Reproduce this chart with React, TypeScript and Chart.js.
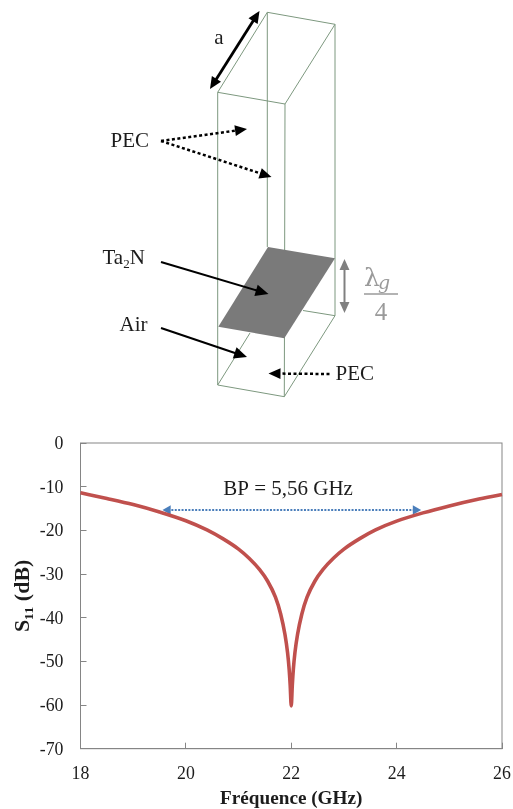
import React, { useEffect, useRef } from "react";
import { Chart, registerables } from "chart.js";

Chart.register(...registerables);

const frequencies = [18, 18.5, 19, 19.5, 20, 20.4, 20.7, 21, 21.2, 21.4, 21.55, 21.7, 21.8, 21.88, 21.93, 21.96, 21.98, 22, 22.02, 22.04, 22.07, 22.12, 22.2, 22.3, 22.45, 22.6, 22.8, 23, 23.3, 23.6, 24, 24.5, 25, 25.5, 26];
const s11Values = [-11.4, -12.7, -14.1, -15.8, -17.8, -19.9, -21.9, -24.3, -26.4, -29, -31.6, -35.3, -39.2, -43.8, -48, -51.8, -55.5, -60.2, -55.5, -51.8, -48, -43.8, -39.2, -35.3, -31.6, -29, -26.4, -24.3, -21.9, -19.9, -17.9, -16, -14.4, -13, -11.8];
const bandwidthX = [19.66, 24.36];
const bandwidthY = [-15.35, -15.35];
const bandwidthLabel = "BP = 5,56 GHz";
const labelPosition = { x: 21.94, y: -10.6 };
const xTicks = [18, 20, 22, 24, 26];
const yTicks = [0, -10, -20, -30, -40, -50, -60, -70];

const SERIF = '"Liberation Serif", serif';
const INK = "#1c1c1c";
const AXIS = "#858585";

const framePlugin = {
  id: "frame",
  beforeDatasetsDraw(chart: any) {
    const { ctx, chartArea: a } = chart;
    ctx.save();
    ctx.strokeStyle = AXIS;
    ctx.lineWidth = 1;
    ctx.strokeRect(a.left, a.top, a.right - a.left, a.bottom - a.top);
    ctx.restore();
  },
  afterDatasetsDraw(chart: any) {
    const { ctx, scales } = chart;
    ctx.save();
    ctx.fillStyle = INK;
    ctx.font = `21px ${SERIF}`;
    ctx.textAlign = "center";
    ctx.textBaseline = "middle";
    ctx.fillText(bandwidthLabel, scales.x.getPixelForValue(labelPosition.x), scales.y.getPixelForValue(labelPosition.y));
    ctx.restore();
  },
};

type ArrowProps = { x1: number; y1: number; x2: number; y2: number; color?: string; width?: number; dash?: string; head?: number; both?: boolean };

function Head({ x, y, ang, size, color }: { x: number; y: number; ang: number; size: number; color: string }) {
  const w = size * 0.45;
  const bx = x - Math.cos(ang) * size;
  const by = y - Math.sin(ang) * size;
  const px = -Math.sin(ang) * w;
  const py = Math.cos(ang) * w;
  return <polygon points={`${x},${y} ${bx + px},${by + py} ${bx - px},${by - py}`} fill={color} />;
}

function Arrow({ x1, y1, x2, y2, color = "#000", width = 2.1, dash, head = 13, both }: ArrowProps) {
  const ang = Math.atan2(y2 - y1, x2 - x1);
  const ex = x2 - Math.cos(ang) * head * 0.8;
  const ey = y2 - Math.sin(ang) * head * 0.8;
  const sx = both ? x1 + Math.cos(ang) * head * 0.8 : x1;
  const sy = both ? y1 + Math.sin(ang) * head * 0.8 : y1;
  return (
    <g>
      <line x1={sx} y1={sy} x2={ex} y2={ey} stroke={color} strokeWidth={width} strokeDasharray={dash} />
      <Head x={x2} y={y2} ang={ang} size={head} color={color} />
      {both && <Head x={x1} y={y1} ang={ang + Math.PI} size={head} color={color} />}
    </g>
  );
}

function Schematic() {
  const edge = { stroke: "#7d987f", strokeWidth: 1, fill: "none" };
  const txt = { fontFamily: SERIF, fontSize: 21, fill: INK };
  return (
    <svg width={513} height={410} style={{ position: "absolute", left: 0, top: 0 }}>
      <polygon points="267.3,12.3 335,24.3 285,104 217.7,92.3" {...edge} />
      <line x1={217.7} y1={92.3} x2={217.7} y2={385} {...edge} />
      <line x1={285} y1={104} x2={284.3} y2={396.7} {...edge} />
      <line x1={335} y1={24.3} x2={335} y2={315.7} {...edge} />
      <line x1={267.3} y1={12.3} x2={267.3} y2={247} {...edge} />
      <polyline points="217.7,385 284.3,396.7 335,315.7 303,310.5" {...edge} />
      <line x1={217.7} y1={385} x2={250} y2={333} {...edge} />
      <polygon points="268,247 335,258.3 284.3,338.3 218.3,326.7" fill="#7a7a7a" />

      <Arrow x1={210} y1={89} x2={259.5} y2={11} both width={2.8} head={12} />
      <text x={219} y={44} {...txt} textAnchor="middle">a</text>

      <text x={110.5} y={147} {...txt}>PEC</text>
      <Arrow x1={161} y1={141} x2={247} y2={129} dash="3 2.5" width={2.5} head={12} />
      <Arrow x1={161} y1={141} x2={271.5} y2={177} dash="3 2.5" width={2.5} head={12} />

      <text x={102.5} y={264} {...txt}>Ta<tspan fontSize={13} dy={4}>2</tspan><tspan dy={-4}>N</tspan></text>
      <Arrow x1={161} y1={262} x2={268.5} y2={294} />

      <text x={119.5} y={331} {...txt}>Air</text>
      <Arrow x1={161} y1={328} x2={247} y2={357} />

      <text x={335.5} y={380} {...txt}>PEC</text>
      <Arrow x1={329.5} y1={374} x2={268.5} y2={373.5} dash="3 2.5" width={2.5} head={12} />

      <Arrow x1={344.5} y1={259} x2={344.5} y2={313} both color="#808080" width={2} head={11} />
      <text x={364} y={286} fontFamily={'"DejaVu Serif", serif'} fontSize={25} fill="#9a9a9a">λ</text>
      <text x={378} y={289} fontFamily={'"DejaVu Serif", serif'} fontStyle="italic" fontSize={19} fill="#9a9a9a">g</text>
      <line x1={364} y1={294} x2={398} y2={294} stroke="#9a9a9a" strokeWidth={1.6} />
      <text x={381} y={320} fontFamily={SERIF} fontSize={25} fill="#9a9a9a" textAnchor="middle">4</text>
    </svg>
  );
}

export default function App() {
  const ref = useRef<HTMLCanvasElement>(null);

  useEffect(() => {
    const chart = new Chart(ref.current as HTMLCanvasElement, {
      type: "scatter",
      data: {
        datasets: [
          {
            label: "S11",
            data: frequencies.map((x, i) => ({ x, y: s11Values[i] })),
            showLine: true,
            borderColor: "#c0504d",
            borderWidth: 3.6,
            pointRadius: 0,
            cubicInterpolationMode: "monotone",
            clip: 2,
          },
          {
            label: "BP",
            data: bandwidthX.map((x, i) => ({ x, y: bandwidthY[i] })),
            showLine: true,
            borderColor: "#4a7ebb",
            borderWidth: 2,
            borderDash: [2, 1.4],
            pointStyle: "triangle",
            pointRadius: 5.5,
            pointBorderWidth: 0,
            pointBackgroundColor: "#4a7ebb",
            pointRotation: [-90, 90],
          },
        ] as any,
      },
      plugins: [framePlugin],
      options: {
        responsive: false,
        animation: false,
        devicePixelRatio: 1,
        layout: { autoPadding: false, padding: { left: 0, top: 443, right: 11, bottom: 0 } },
        plugins: { legend: { display: false }, tooltip: { enabled: false } },
        scales: {
          x: {
            type: "linear",
            min: 18,
            max: 26,
            afterBuildTicks: (s: any) => { s.ticks = xTicks.map((value) => ({ value })); },
            afterFit: (s: any) => { s.height = 60.3; s.paddingLeft = 0; s.paddingRight = 0; },
            border: { color: AXIS, width: 1 },
            grid: { drawOnChartArea: false, color: AXIS, tickLength: -6 },
            ticks: { color: INK, font: { family: SERIF, size: 17.8 }, padding: 21, maxRotation: 0, autoSkip: false },
            title: { display: true, text: "Fréquence (GHz)", color: INK, font: { family: SERIF, size: 19.2, weight: "bold" }, padding: { top: 2, bottom: -1.5 } },
          },
          y: {
            type: "linear",
            min: -70,
            max: 0,
            afterBuildTicks: (s: any) => { s.ticks = yTicks.map((value) => ({ value })); },
            afterFit: (s: any) => { s.width = 80.5; s.paddingTop = 0; s.paddingBottom = 0; },
            border: { color: AXIS, width: 1 },
            grid: { drawOnChartArea: false, color: AXIS, tickLength: -6 },
            ticks: { color: INK, font: { family: SERIF, size: 17.8 }, padding: 23, labelOffset: 1.3, autoSkip: false },
            title: { display: true, text: "S₁₁ (dB)", color: INK, font: { family: SERIF, size: 22, weight: "bold" }, padding: { top: 10, bottom: 0 } },
          },
        },
      },
    } as any);
    return () => chart.destroy();
  }, []);

  return (
    <div style={{ position: "absolute", left: 0, top: 0, width: 513, height: 809, background: "#fff", overflow: "hidden" }}>
      <canvas ref={ref} width={513} height={809} style={{ position: "absolute", left: 0, top: 0, width: 513, height: 809 }} />
      <Schematic />
    </div>
  );
}
